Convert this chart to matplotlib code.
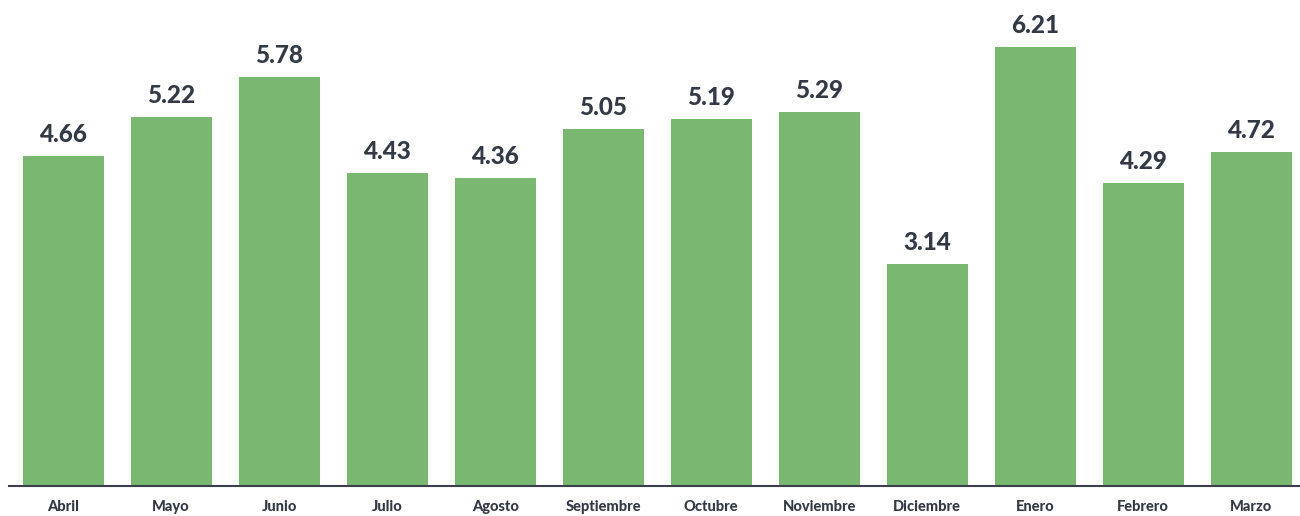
import matplotlib
matplotlib.use("Agg")
import matplotlib.pyplot as plt

BAR = "#7ab872"; INK = "#333a45"; AXIS = "#3a3f48"

months = ["Abril", "Mayo", "Junio", "Julio", "Agosto", "Septiembre",
          "Octubre", "Noviembre", "Diciembre", "Enero", "Febrero", "Marzo"]
values = [4.66, 5.22, 5.78, 4.43, 4.36, 5.05, 5.19, 5.29, 3.14, 6.21, 4.29, 4.72]

fig = plt.figure(figsize=(13, 5.16), dpi=100)
ax = fig.add_axes([0.007, 0.058, 0.997, 0.942])

x = range(len(months))
ax.bar(x, values, width=0.75, color=BAR, zorder=2)
for xi, v in zip(x, values):
    ax.text(xi, v + 0.14, f"{v:.2f}", ha="center", va="bottom",
            fontsize=17.5, fontweight="black", color=INK, family="Lato")

ax.set_xlim(-0.5, 11.5)
ax.set_ylim(0, 6.87)
ax.set_xticks(list(x))
ax.set_xticklabels(months, fontsize=10.5, fontweight="black", color=INK,
                   family="Lato")
ax.tick_params(axis="x", length=0, pad=10)
ax.set_yticks([])
for s in ["top", "right", "left"]:
    ax.spines[s].set_visible(False)
ax.spines["bottom"].set_color(AXIS)
ax.spines["bottom"].set_linewidth(1.5)

fig.savefig("out.png", dpi=100)
